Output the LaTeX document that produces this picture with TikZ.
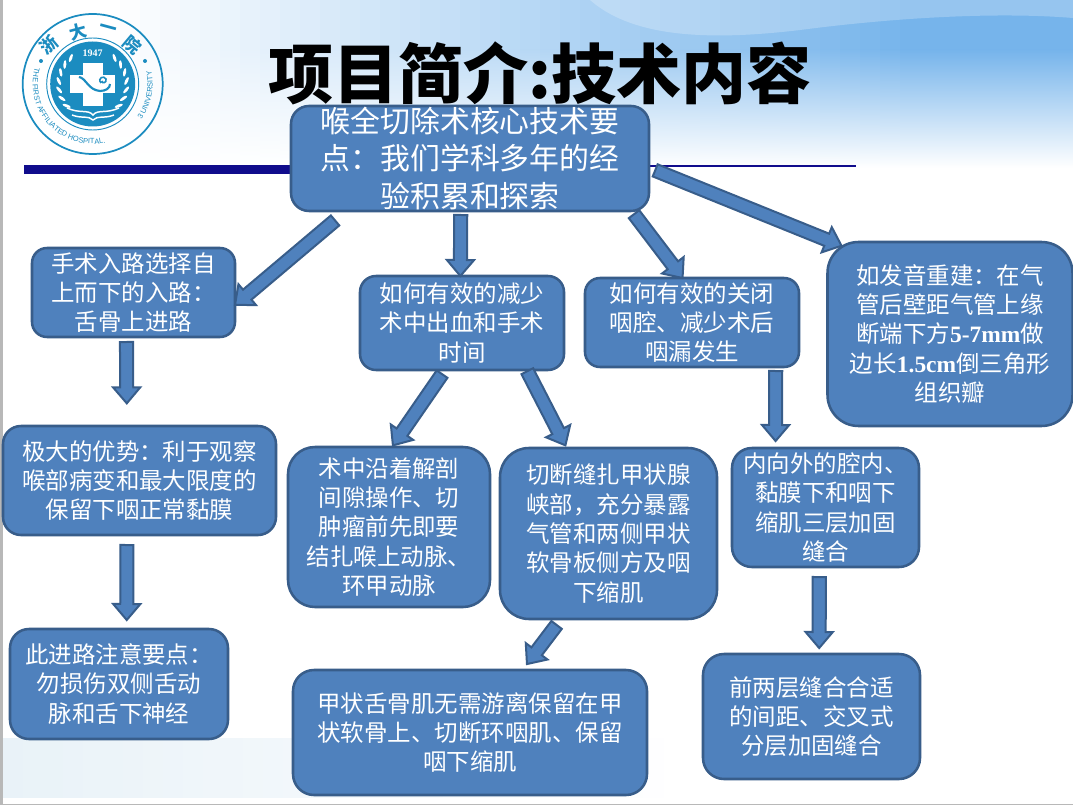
\documentclass[tikz,border=0pt]{standalone}
\usepackage{fontspec}
\setmainfont{Noto Sans CJK SC}
\newfontfamily\latinserif{Liberation Serif}
\newfontfamily\logosans{Liberation Sans}
\usetikzlibrary{calc,decorations.text,shapes.geometric}
\definecolor{boxfill}{RGB}{79,129,189}
\definecolor{boxline}{RGB}{56,93,138}
\definecolor{barnavy}{RGB}{16,12,140}
\definecolor{logoblue}{RGB}{27,140,192}
\definecolor{skyblue}{RGB}{118,180,235}
\definecolor{bandpale}{RGB}{233,242,248}
\tikzset{
  flowbox/.style n args={3}{draw=boxline, line width=1.9pt, fill=boxfill, text=white, align=center, inner sep=0pt, outer sep=0pt,
    minimum width=#1*0.75pt-1.5pt, minimum height=#2*0.75pt-1.5pt, rounded corners=#3*0.75pt,
    font=\fontsize{17.6}{22}\selectfont},
  flowarrow/.style={draw=boxline, line width=1.5pt, fill=boxfill, line join=miter},
  leaf/.style={fill=white, ellipse, inner sep=0pt, minimum width=6.5pt, minimum height=2.2pt},
  logochar/.style={text=logoblue, inner sep=0pt, font=\fontsize{13}{13}\selectfont\bfseries}
}
\def\shaftw{4.9pt}
\def\headw{10.2pt}
\def\headlen{12pt}
\newcommand{\blockarrow}[4]{
  \coordinate (tl) at ($(#1)!#3!(#2)$);
  \coordinate (tp) at ($(#2)!#4!(#1)$);
  \coordinate (nk) at ($(tp)!\headlen!(tl)$);
  \draw[flowarrow] ($(tl)!\shaftw!90:(tp)$) -- ($(nk)!\shaftw!90:(tp)$) -- ($(nk)!\headw!90:(tp)$) -- (tp)
    -- ($(nk)!\headw!-90:(tp)$) -- ($(nk)!\shaftw!-90:(tp)$) -- ($(tl)!\shaftw!-90:(tp)$) -- cycle;
}
\begin{document}
\begin{tikzpicture}[x=0.75pt,y=0.75pt,yscale=-1,xscale=1]
\useasboundingbox (0,0) rectangle (1073,805);
\fill[white] (0,0) rectangle (1073,805);
\foreach \col in {0,...,53} {
  \pgfmathsetmacro{\pct}{max(0,min(100,(\col*20-100)/8))}
  \fill[skyblue!\pct!white] (\col*20,0) rectangle (\col*20+20.5,50);
  \fill[top color=skyblue!\pct!white, bottom color=white, draw=none] (\col*20,50) rectangle (\col*20+20.5,168);
}
\fill[white, opacity=0.24] (590,0) .. controls (630,35) and (700,42) .. (800,30) .. controls (900,17) and (1000,12) .. (1073,18) -- (1073,0) -- cycle;
\foreach \col in {0,...,32} {
  \pgfmathsetmacro{\pct}{100-\col*3}
  \fill[bandpale!\pct!white] (3+\col*20,738) rectangle (3+\col*20+20.5,798);
}
\fill[black!28] (0,0) rectangle (3,805);
\fill[black!28] (0,803.5) rectangle (1073,805);

\fill[barnavy] (24,165) rectangle (300,174);
\fill[barnavy] (640,165.5) rectangle (856,167.5);

\coordinate (logo) at (92.7,84);
\draw[logoblue, line width=1.3pt] (logo) circle (70);
\draw[logoblue, line width=0.7pt] (logo) circle (46);
\fill[logoblue] (logo) circle (42.5);
\fill[white] (83,63) rectangle (103,106);
\fill[white] (70,75) rectangle (115,93);
\draw[logoblue, line width=1.6pt] (79,77) .. controls (86,78) and (88,90) .. (100,91) .. controls (106,91) and (110,88) .. (110,84);
\draw[logoblue, line width=1.2pt] (101,83) .. controls (97,78) and (104,75) .. (106,79) .. controls (107,83) and (102,84) .. (102,81);
\foreach \ang in {140,155,170,185,200,215,230} {
  \node[leaf, rotate=120-\ang] at ($(logo)+(\ang:34)$) {};
  \node[leaf, rotate=\ang-120] at ($(logo)+(180-\ang:34)$) {};
}
\draw[white, line width=1.1pt] (67,108) .. controls (80,114) and (88,109) .. (93,115) .. controls (98,109) and (106,114) .. (119,108);
\draw[white, line width=1.1pt] (72,115) .. controls (82,119) and (88,115) .. (93,120) .. controls (98,115) and (104,119) .. (114,115);
\node[text=white, inner sep=0pt, font=\latinserif\bfseries\fontsize{7.5}{8}\selectfont] (year) at (92.7,53) {1947};
\node[logochar, rotate=40] (zhe) at (49,45) {浙};
\node[logochar, rotate=15] (da) at (78,32) {大};
\node[logochar, rotate=-15] (yi) at (108,30) {一};
\node[logochar, rotate=-40] (yuan) at (132,45) {院};
\fill[logoblue] (41,61) circle (2);
\fill[logoblue] (145,61) circle (2);
\path[decorate, decoration={text along path, text color=logoblue, text={|\logosans\fontsize{5.6}{6}\selectfont|THE FIRST AFFILIATED HOSPITAL.}}]
  ($(logo)+(196:60)$) arc[start angle=196, end angle=70, radius=60];
\path[decorate, decoration={text along path, text color=logoblue, text={|\logosans\fontsize{5.6}{6}\selectfont|3 UNIVERSITY}}]
  ($(logo)+(36:60)$) arc[start angle=36, end angle=-18, radius=60];

\node[inner sep=0pt, font=\bfseries\fontsize{48.8}{50}\selectfont] (title) at (540,73) {项目简介:技术内容};

\node[flowbox={360}{107}{18}, font=\fontsize{22.4}{28.2}\selectfont] (root) at (470,158.5) {喉全切除术核心技术要\\点：我们学科多年的经\\验积累和探索};
\node[flowbox={205}{91}{15}] (entry) at (133.5,292.5) {手术入路选择自\\上而下的入路：\\舌骨上进路};
\node[flowbox={206}{96}{16}] (bleed) at (462,323) {如何有效的减少\\术中出血和手术\\时间};
\node[flowbox={216}{91}{15}] (close) at (692,322.5) {如何有效的关闭\\咽腔、减少术后\\咽漏发生};
\node[flowbox={247}{186}{31}] (voice) at (950,334) {如发音重建：在气\\管后壁距气管上缘\\断端下方{\latinserif\bfseries 5-7mm}做\\边长{\latinserif\bfseries 1.5cm}倒三角形\\组织瓣};
\node[flowbox={275}{111}{18}] (merit) at (139.5,480.5) {极大的优势：利于观察\\喉部病变和最大限度的\\保留下咽正常黏膜};
\node[flowbox={220}{112}{19}] (caution) at (119,684) {此进路注意要点：\\勿损伤双侧舌动\\脉和舌下神经};
\node[flowbox={204}{162}{27}] (gap) at (389,527) {术中沿着解剖\\间隙操作、切\\肿瘤前先即要\\结扎喉上动脉、\\环甲动脉};
\node[flowbox={219}{173}{29}] (isthmus) at (608.5,533.5) {切断缝扎甲状腺\\峡部，充分暴露\\气管和两侧甲状\\软骨板侧方及咽\\下缩肌};
\node[flowbox={189}{121}{20}] (layers) at (825.5,507.5) {内向外的腔内、\\黏膜下和咽下\\缩肌三层加固\\缝合};
\node[flowbox={356}{127}{21}] (muscle) at (470,732.5) {甲状舌骨肌无需游离保留在甲\\状软骨上、切断环咽肌、保留\\咽下缩肌};
\node[flowbox={219}{127}{21}] (suture) at (811.5,716.5) {前两层缝合合适\\的间距、交叉式\\分层加固缝合};

\blockarrow{root.203.5}{entry.-7}{11pt}{0pt}
\blockarrow{root.-100.6}{bleed.92.4}{3pt}{0pt}
\blockarrow{root.-18.2}{close.102.4}{3pt}{0pt}
\blockarrow{root.-3.3}{voice.142.2}{5pt}{-7.5pt}
\blockarrow{entry.-99.4}{merit.103.8}{3.75pt}{17pt}
\blockarrow{bleed.-110.6}{gap.88}{3.75pt}{1.5pt}
\blockarrow{bleed.-36.4}{isthmus.116.4}{1pt}{2.25pt}
\blockarrow{close.-28.8}{layers.130.6}{3pt}{5.25pt}
\blockarrow{merit.-103.7}{caution.82.9}{7.5pt}{6.75pt}
\blockarrow{isthmus.-119.5}{muscle.50.4}{5.6pt}{5.6pt}
\blockarrow{layers.-96.1}{suture.83.3}{7.5pt}{4.5pt}
\end{tikzpicture}
\end{document}
